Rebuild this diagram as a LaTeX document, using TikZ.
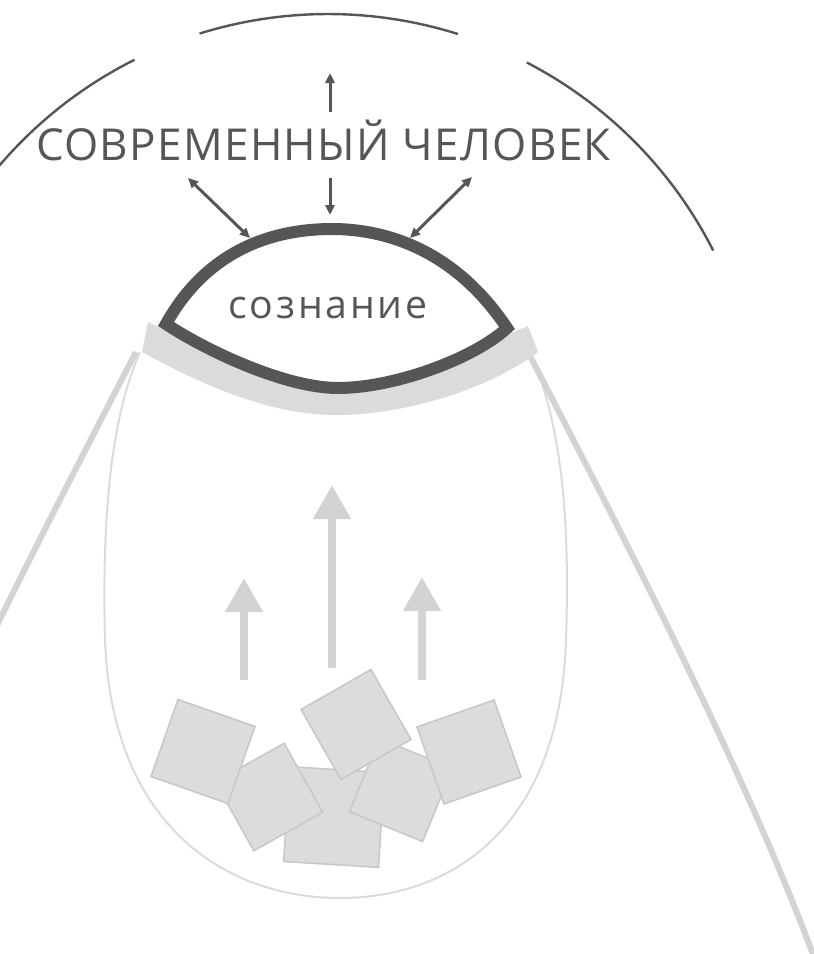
\documentclass[tikz,border=0pt]{standalone}
\usepackage{fontspec}
\setmainfont{Open Sans}
\newfontfamily\titlefont[LetterSpace=3]{Open Sans}
\newfontfamily\mindfont[LetterSpace=7]{Open Sans}
\usetikzlibrary{arrows.meta}
\definecolor{ink}{HTML}{565656}
\definecolor{pale}{HTML}{D3D3D3}
\definecolor{band}{HTML}{DBDBDB}
\definecolor{tilefill}{HTML}{DCDCDC}
\definecolor{tileedge}{HTML}{C8C8C8}
\tikzset{
  thin arc/.style={ink, line width=1.2pt},
  dark arrow/.style={ink, line width=1.5pt, {Triangle[length=5pt,width=4.5pt]}-{Triangle[length=5pt,width=4.5pt]}},
  up arrow/.style={ink, line width=1.5pt, -{Triangle[length=5pt,width=4.5pt]}},
  rise/.style={pale, line width=4pt, -{Triangle[length=17pt,width=18pt]}},
  piece/.style={draw=tileedge, fill=tilefill, line width=0.8pt, inner sep=0pt, minimum size=#1},
}
\begin{document}
\begin{tikzpicture}[x=0.5pt,y=-0.5pt]
  \useasboundingbox (0,0) rectangle (814,954);
  \clip (0,0) rectangle (814,954);
  \coordinate (c) at (328,446);
  \draw[thin arc] ([shift={(-107.3:432)}]c) arc[start angle=-107.3, end angle=-72.5, radius=432];
  \draw[thin arc] ([shift={(-140:432)}]c) arc[start angle=-140, end angle=-116.6, radius=432];
  \draw[thin arc] ([shift={(-62.6:432)}]c) arc[start angle=-62.6, end angle=-26.9, radius=432];

  \draw[band, line width=1pt] (140,352) .. controls (110,420) and (102,520) .. (105,640)
    .. controls (112,830) and (230,898) .. (340,898) .. controls (450,898) and (560,830) .. (566,640)
    .. controls (570,520) and (562,430) .. (532,355);
  \draw[pale, line width=3pt] (528,352) .. controls (620,530) and (745,770) .. (815,960);
  \draw[pale, line width=3pt] (136,352) .. controls (44,530) and (-81,770) .. (-151,960);
  \fill[band] (142,352) .. controls (185,375) and (260,415) .. (336,415)
    .. controls (412,415) and (495,385) .. (538,352) -- (528,326)
    .. controls (420,372) and (250,372) .. (148,322) -- cycle;

  \draw[ink, line width=6pt, line join=miter, fill=white] (166,324) .. controls (210,245) and (280,229) .. (332,229)
    .. controls (386,229) and (455,250) .. (507,328) .. controls (475,358) and (395,388) .. (338,388)
    .. controls (285,388) and (205,350) .. cycle;
  \node[ink, anchor=base, font=\mindfont\fontsize{19.6}{22}\selectfont] (mind) at (328,318) {сознание};
  \node[ink, anchor=base, font=\titlefont\fontsize{22}{26}\selectfont] (man) at (323.5,160) {СОВРЕМЕННЫЙ ЧЕЛОВЕК};

  \coordinate (u0) at (330,112); \coordinate (u1) at (330,73);
  \coordinate (d0) at (330,178); \coordinate (d1) at (330,215);
  \coordinate (l0) at (188,178); \coordinate (l1) at (250,238);
  \coordinate (r0) at (472,177); \coordinate (r1) at (410,238);
  \draw[up arrow] (u0) -- (u1);
  \draw[up arrow] (d0) -- (d1);
  \draw[dark arrow] (l0) -- (l1);
  \draw[dark arrow] (r0) -- (r1);

  \coordinate (a0) at (244,680); \coordinate (a1) at (244,578);
  \coordinate (b0) at (332,668); \coordinate (b1) at (332,485);
  \coordinate (e0) at (422,680); \coordinate (e1) at (422,577);
  \draw[rise] (a0) -- (a1);
  \draw[rise] (b0) -- (b1);
  \draw[rise] (e0) -- (e1);

  \node[piece=47.5pt, rotate=-3.5] (s3) at (334,817) {};
  \node[piece=39.5pt, rotate=29.2] (s2) at (269,797) {};
  \node[piece=40.8pt, rotate=-19.3] (s1) at (203,751.5) {};
  \node[piece=39.5pt, rotate=-22.3] (s5) at (401,790) {};
  \node[piece=40.3pt, rotate=29.7] (s4) at (356,724.5) {};
  \node[piece=40.8pt, rotate=19.3] (s6) at (469,752) {};
\end{tikzpicture}
\end{document}
